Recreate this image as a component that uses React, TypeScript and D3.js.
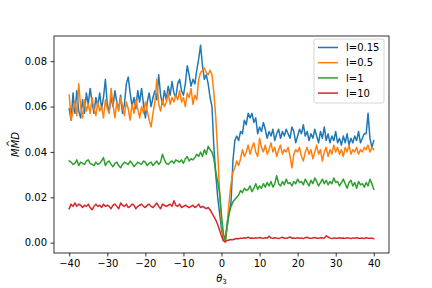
import React, { useEffect, useRef } from "react";
import * as d3 from "d3";

// theta_3 grid: -40 .. 40 step 0.5
const thetaStart = -40;
const thetaStep = 0.5;

const seriesLabels = ["l=0.15", "l=0.5", "l=1", "l=10"];
const seriesColors = ["#1f77b4", "#ff7f0e", "#2ca02c", "#d62728"];

const mmdL015 = [
  0.059, 0.054, 0.066, 0.057, 0.067, 0.058, 0.055, 0.063, 0.057, 0.066, 0.061, 0.068, 0.062, 0.057, 0.064, 0.060, 0.066, 0.059, 0.064, 0.072, 0.061,
  0.058, 0.064, 0.060, 0.067, 0.062, 0.059, 0.065, 0.057, 0.061, 0.070, 0.073, 0.066, 0.060, 0.064, 0.059, 0.067, 0.062, 0.068, 0.061, 0.055,
  0.062, 0.066, 0.060, 0.064, 0.067, 0.063, 0.074, 0.065, 0.061, 0.067, 0.063, 0.069, 0.065, 0.071, 0.066, 0.064, 0.070, 0.072, 0.067, 0.065,
  0.070, 0.078, 0.074, 0.069, 0.072, 0.070, 0.076, 0.081, 0.087, 0.078,
  0.072, 0.074, 0.070, 0.064, 0.060, 0.042, 0.030, 0.020, 0.013, 0.006,
  0.002, 0.001, 0.007, 0.013, 0.018, 0.036, 0.045, 0.047, 0.045, 0.049,
  0.048, 0.054, 0.052, 0.057, 0.055, 0.057, 0.053, 0.055, 0.048, 0.051,
  0.049, 0.053, 0.050, 0.046, 0.049, 0.047, 0.050, 0.045, 0.048, 0.050, 0.046, 0.049, 0.047, 0.050, 0.048, 0.046, 0.051, 0.049, 0.044, 0.047,
  0.050, 0.048, 0.052, 0.047, 0.049, 0.045, 0.048, 0.046, 0.050, 0.047, 0.044, 0.049, 0.046, 0.051, 0.045, 0.048, 0.044, 0.047, 0.045, 0.049,
  0.044, 0.046, 0.043, 0.047, 0.044, 0.048, 0.043, 0.046, 0.044, 0.047, 0.045, 0.049, 0.044, 0.046, 0.048, 0.048, 0.057, 0.046, 0.042, 0.045,
];

const mmdL05 = [
  0.065, 0.054, 0.058, 0.062, 0.056, 0.070, 0.060, 0.055, 0.063, 0.058, 0.061, 0.057, 0.064, 0.059, 0.056, 0.062, 0.058, 0.060, 0.055, 0.063, 0.059,
  0.057, 0.068, 0.061, 0.055, 0.062, 0.058, 0.064, 0.060, 0.056, 0.062, 0.059, 0.054, 0.061, 0.057, 0.063, 0.059, 0.055, 0.060, 0.057, 0.062,
  0.058, 0.054, 0.051, 0.057, 0.062, 0.072, 0.061, 0.058, 0.063, 0.060, 0.062, 0.066, 0.061, 0.064, 0.062, 0.065, 0.063, 0.067, 0.062, 0.064,
  0.060, 0.066, 0.064, 0.068, 0.061, 0.065, 0.063, 0.072, 0.075, 0.076, 0.077, 0.075, 0.074, 0.076, 0.074, 0.066, 0.055, 0.040, 0.022, 0.009,
  0.002, 0.000, 0.008, 0.018, 0.026, 0.031, 0.033, 0.036, 0.034, 0.037,
  0.041, 0.038, 0.040, 0.043, 0.039, 0.042, 0.044, 0.040, 0.038, 0.046,
  0.042, 0.040, 0.043, 0.039, 0.041, 0.044, 0.040, 0.042, 0.038, 0.041, 0.043, 0.039, 0.041, 0.040, 0.042, 0.038, 0.033, 0.039, 0.041, 0.040,
  0.042, 0.038, 0.036, 0.040, 0.042, 0.039, 0.041, 0.037, 0.040, 0.043, 0.039, 0.041, 0.036, 0.040, 0.042, 0.038, 0.041, 0.039, 0.043, 0.040,
  0.042, 0.039, 0.041, 0.038, 0.042, 0.040, 0.043, 0.039, 0.041, 0.040, 0.042, 0.039, 0.041, 0.040, 0.042, 0.041, 0.043, 0.040, 0.042, 0.041,
];

const mmdL1 = [
  0.036, 0.0355, 0.0345, 0.035, 0.0365, 0.034, 0.0355, 0.035, 0.0345, 0.036, 0.0365, 0.035, 0.0345, 0.034, 0.0355, 0.0345, 0.035, 0.036, 0.0375, 0.034, 0.0355,
  0.036, 0.0345, 0.0335, 0.035, 0.0355, 0.034, 0.033, 0.0345, 0.0355, 0.035, 0.0345, 0.036, 0.035, 0.0335, 0.0345, 0.0355, 0.035, 0.0345, 0.036, 0.0355,
  0.034, 0.035, 0.0355, 0.034, 0.035, 0.036, 0.0345, 0.0355, 0.039, 0.0365, 0.035, 0.0345, 0.0355, 0.036, 0.035, 0.0365, 0.036, 0.0355, 0.0365, 0.035,
  0.037, 0.038, 0.036, 0.037, 0.0365, 0.0375, 0.039, 0.038, 0.040, 0.038,
  0.041, 0.039, 0.0425, 0.041, 0.040, 0.037, 0.031, 0.027, 0.022, 0.012,
  0.004, 0.001, 0.009, 0.013, 0.016, 0.018, 0.019, 0.020, 0.021, 0.023,
  0.022, 0.024, 0.023, 0.0235, 0.025, 0.0225, 0.024, 0.026, 0.0235, 0.025,
  0.024, 0.026, 0.0245, 0.0265, 0.025, 0.027, 0.0245, 0.026, 0.0295, 0.026, 0.025, 0.027, 0.0255, 0.028, 0.026, 0.0265, 0.025, 0.027, 0.026, 0.028,
  0.0265, 0.027, 0.0255, 0.028, 0.0265, 0.025, 0.0275, 0.026, 0.0285, 0.027, 0.025, 0.0265, 0.028, 0.026, 0.0275, 0.0255, 0.027, 0.026, 0.0285, 0.0265,
  0.027, 0.025, 0.0265, 0.028, 0.026, 0.024, 0.0265, 0.0275, 0.025, 0.0265, 0.024, 0.027, 0.0255, 0.026, 0.0245, 0.0265, 0.025, 0.028, 0.026, 0.0235,
];

const mmdL10 = [
  0.015, 0.017, 0.016, 0.0175, 0.016, 0.017, 0.0165, 0.0155, 0.0165, 0.016, 0.017, 0.0155, 0.0145, 0.016, 0.017, 0.016, 0.0165, 0.0155, 0.017, 0.016, 0.0165,
  0.016, 0.015, 0.0165, 0.017, 0.016, 0.015, 0.0175, 0.0165, 0.016, 0.017, 0.0155, 0.016, 0.017, 0.0165, 0.015, 0.016, 0.0165, 0.017, 0.016, 0.0155,
  0.0165, 0.017, 0.016, 0.0155, 0.0165, 0.0175, 0.016, 0.015, 0.017, 0.0165, 0.016, 0.0165, 0.017, 0.016, 0.0185, 0.0165, 0.016, 0.017, 0.0155, 0.016,
  0.0165, 0.016, 0.0155, 0.016, 0.0165, 0.0155, 0.016, 0.017, 0.0155, 0.016,
  0.0155, 0.015, 0.0155, 0.0145, 0.013, 0.0115, 0.010, 0.008, 0.0055, 0.003,
  0.0008, 0.0005, 0.001, 0.0012, 0.0014, 0.0013, 0.0016, 0.0018, 0.0017, 0.002,
  0.0019, 0.0022, 0.002, 0.0024, 0.002, 0.0021, 0.0019, 0.0022, 0.002, 0.0023,
  0.0021, 0.0019, 0.0022, 0.002, 0.0028, 0.0021, 0.0019, 0.0022, 0.002, 0.0018, 0.0021, 0.0024, 0.002, 0.0019, 0.0022, 0.0025, 0.002, 0.0021, 0.0019, 0.0022,
  0.002, 0.0021, 0.0018, 0.0022, 0.0024, 0.002, 0.0019, 0.0021, 0.0023, 0.002, 0.0019, 0.0022, 0.0021, 0.002, 0.003, 0.0025, 0.002, 0.0018, 0.0021, 0.002,
  0.0019, 0.0022, 0.002, 0.0021, 0.0019, 0.0022, 0.002, 0.0018, 0.0021, 0.002, 0.0022, 0.0019, 0.002, 0.0021, 0.0018, 0.0022, 0.002, 0.0019, 0.0021, 0.0017,
];

const xTicks = [-40, -30, -20, -10, 0, 10, 20, 30, 40];
const yTicks = [0, 0.02, 0.04, 0.06, 0.08];

const App = () => {
  const ref = useRef<SVGSVGElement>(null);

  useEffect(() => {
    const width = 432;
    const height = 288;
    const margin = { top: 36, right: 43, bottom: 35, left: 54 };
    const font = "DejaVu Sans, sans-serif";

    const svg = d3.select(ref.current);
    svg.selectAll("*").remove();

    const all = [mmdL015, mmdL05, mmdL1, mmdL10];
    const x = d3.scaleLinear().domain([-44, 44]).range([margin.left, width - margin.right]);
    const y = d3
      .scaleLinear()
      .domain([-0.00455, 0.0911])
      .range([height - margin.bottom, margin.top]);

    const line = d3
      .line<number>()
      .x((_, i) => x(thetaStart + i * thetaStep))
      .y(d => y(d));

    svg
      .selectAll("path.series")
      .data(all)
      .join("path")
      .attr("class", "series")
      .attr("d", d => line(d))
      .attr("fill", "none")
      .attr("stroke", (_, i) => seriesColors[i])
      .attr("stroke-width", 1.5)
      .attr("stroke-linejoin", "round")
      .attr("stroke-linecap", "square");

    // axes
    const fmtX = (d: number) => (d < 0 ? "\u2212" + Math.abs(d) : String(d));
    svg
      .append("g")
      .attr("transform", `translate(0,${height - margin.bottom})`)
      .call(d3.axisBottom(x).tickValues(xTicks).tickSize(3.5).tickPadding(3.5).tickFormat(d => fmtX(+d)))
      .call(g => g.select(".domain").remove())
      .call(g => g.selectAll("line").attr("stroke", "#000").attr("stroke-width", 0.8))
      .call(g => g.selectAll("text").attr("fill", "#000").attr("font-size", 10).attr("font-family", font));

    svg
      .append("g")
      .attr("transform", `translate(${margin.left},0)`)
      .call(d3.axisLeft(y).tickValues(yTicks).tickSize(3.5).tickPadding(3.5).tickFormat(d3.format(".2f")))
      .call(g => g.select(".domain").remove())
      .call(g => g.selectAll("line").attr("stroke", "#000").attr("stroke-width", 0.8))
      .call(g => g.selectAll("text").attr("fill", "#000").attr("font-size", 10).attr("font-family", font));

    // frame
    svg
      .append("rect")
      .attr("x", margin.left)
      .attr("y", margin.top)
      .attr("width", width - margin.left - margin.right)
      .attr("height", height - margin.top - margin.bottom)
      .attr("fill", "none")
      .attr("stroke", "#000")
      .attr("stroke-width", 0.8);

    // labels
    svg
      .append("text")
      .attr("x", (margin.left + width - margin.right) / 2)
      .attr("y", 282)
      .attr("text-anchor", "middle")
      .attr("font-family", font)
      .attr("font-size", 10)
      .call(t => t.append("tspan").attr("font-style", "italic").text("θ"))
      .call(t => t.append("tspan").attr("font-size", 7).attr("dy", 2).text("3"));

    const yl = svg
      .append("g")
      .attr("transform", `translate(19,${(margin.top + height - margin.bottom) / 2}) rotate(-90)`);
    yl.append("text")
      .attr("text-anchor", "middle")
      .attr("font-family", font)
      .attr("font-size", 10)
      .attr("font-style", "italic")
      .text("MMD");
    yl.append("text")
      .attr("x", 1)
      .attr("y", -6)
      .attr("text-anchor", "middle")
      .attr("font-family", font)
      .attr("font-size", 9)
      .text("^");

    // legend
    const lg = svg.append("g").attr("transform", "translate(314,39)");
    lg.append("rect")
      .attr("width", 70)
      .attr("height", 64)
      .attr("rx", 2)
      .attr("fill", "#fff")
      .attr("fill-opacity", 0.8)
      .attr("stroke", "#ccc")
      .attr("stroke-width", 0.8);
    seriesLabels.forEach((label, i) => {
      const cy = 8.5 + i * 15.2;
      lg.append("line")
        .attr("x1", 4)
        .attr("x2", 24)
        .attr("y1", cy)
        .attr("y2", cy)
        .attr("stroke", seriesColors[i])
        .attr("stroke-width", 1.5);
      lg.append("text")
        .attr("x", 32)
        .attr("y", cy + 3.6)
        .attr("font-family", font)
        .attr("font-size", 10)
        .text(label);
    });
  }, []);

  return (
    <svg
      ref={ref}
      width={432}
      height={288}
      style={{ position: "absolute", left: 0, top: 0, background: "#fff" }}
    />
  );
};

export default App;
